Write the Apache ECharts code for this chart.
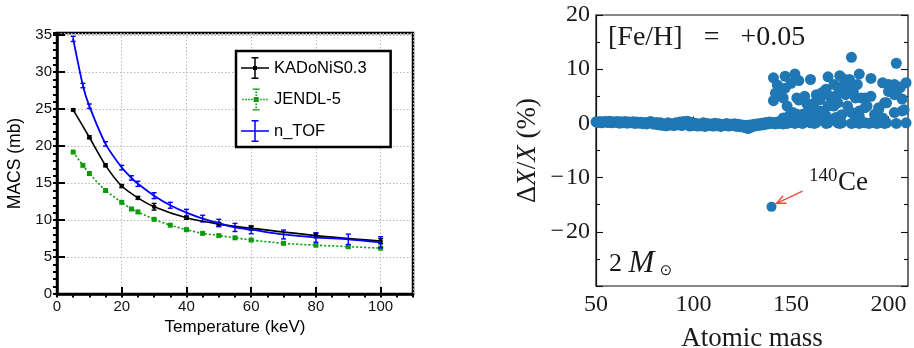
<!DOCTYPE html>
<html>
<head>
<meta charset="utf-8">
<script src="https://cdn.jsdelivr.net/npm/echarts@6.0.0/dist/echarts.min.js"></script>
<style>
html,body{margin:0;padding:0;background:#ffffff;}
#chart{width:914px;height:348px;}
</style>
</head>
<body>
<div id="chart"></div>
<script>
// ---------------- Left panel : MACS vs kT ----------------
const tempRange = [0, 110];
const macsRange = [0, 35.3];
const tempKadonis = [5, 10, 15, 20, 25, 30, 40, 50, 60, 80, 100];
const macsKadonis = [24.9, 21.2, 17.4, 14.6, 13.0, 11.8, 10.3, 9.45, 8.9, 7.9, 7.15];
const errKadonis  = [0.15, 0.2, 0.2, 0.2, 0.2, 0.45, 0.2, 0.25, 0.25, 0.3, 0.35];

const tempJendl = [5, 8, 10, 15, 20, 23, 25, 30, 35, 40, 45, 50, 55, 60, 70, 80, 90, 100];
const macsJendl = [19.2, 17.4, 16.3, 14.0, 12.4, 11.5, 11.1, 10.1, 9.3, 8.7, 8.2, 7.9, 7.6, 7.3, 6.85, 6.6, 6.4, 6.2];

const tempNtof = [5, 8, 10, 15, 20, 23, 25, 30, 35, 40, 45, 50, 55, 60, 70, 80, 90, 100];
const macsNtof = [34.5, 28.2, 25.4, 20.3, 17.1, 15.7, 14.9, 13.3, 12.0, 11.0, 10.2, 9.6, 9.0, 8.7, 8.05, 7.65, 7.4, 7.0];
const errNtof  = [0.35, 0.3, 0.3, 0.3, 0.3, 0.3, 0.35, 0.4, 0.4, 0.45, 0.45, 0.5, 0.55, 0.55, 0.6, 0.65, 0.7, 0.75];

const legendNames = ['KADoNiS0.3', 'JENDL-5', 'n_TOF'];

// ---------------- Right panel : Delta X / X vs A ----------------
const massRange = [50, 210];
const deltaRange = [-30, 20];
const bandMass = [50,51,52,53,54,55,56,57,58,59,60,61,62,63,64,65,66,67,68,69,
  70,71,72,73,74,75,76,77,78,79,80,81,82,83,84,85,86,87,88,89,
  90,91,92,93,94,95,96,97,98,99,100,101,102,103,104,105,106,107,108,109,
  110,111,112,113,114,115,116,117,118,119,120,121,122,123,124,125,126,127,128,129,
  130,131,132,133,134,135,136,137,138,139,140,141,142,143,144,145,146,147];
const bandDelta = [0.3,0.15,0.35,0.1,0.3,0.35,0.15,0.4,0.1,0.3,
  0.2,0.35,0.05,0.3,0.1,0.35,0.05,0.25,0.1,0.3,
  0.0,0.25,0.05,0.2,-0.05,0.15,-0.1,0.2,0.35,-0.05,
  -0.15,0.15,-0.25,0.1,-0.35,-0.05,-0.45,0.1,-0.3,-0.05,
  -0.4,0.1,-0.25,0.25,-0.4,0.35,-0.15,0.4,-0.5,0.15,
  -0.4,0.05,-0.5,-0.1,-0.45,0.1,-0.55,0.0,-0.4,-0.1,
  -0.5,0.05,-0.45,-0.05,-0.55,-0.2,-0.4,0.0,-0.5,-0.15,
  -0.4,-0.05,-0.55,-0.15,-0.6,-0.3,-0.75,-0.35,-0.95,-0.3,
  -0.65,-0.15,-0.45,-0.05,-0.35,0.05,-0.25,0.15,-0.1,0.25,
  0.0,0.15,-0.1,0.25,0.0,0.1,-0.1,0.2];
const clusterMass = [
  141,147,152,154,160,169,175,180,181,185,191,197,204,203,206,209,
  141,142,143,145,146,147,148,150,153,154,157,158,163,165,166,167,168,170,171,172,
  174,175,177,178,179,181,182,183,184,186,188,189,191,195,198,200,200,202,203,204,206,207,208,
  149,151,153,156,157,159,161,162,163,165,168,169,172,174,176,179,181,185,185,188,193,193,195,197,199,203,207,
  146,152,159,166,173,184,193,
  142,148,150,152,155,156,160,162,163,168,169,174,175,176,181,182,185,188,190,193,194,195,198,199,204,209];
const clusterDelta = [
  8.4,8.7,9.1,7.9,8.1,8.6,8.8,8.1,12.2,9.1,8.3,7.5,11.1,7.2,6.7,7.5,
  4.2,5.6,7.1,6.0,4.7,6.5,3.2,7.4,4.7,4.3,5.0,3.7,5.3,4.4,5.7,5.9,6.3,5.0,4.7,7.2,
  5.4,6.6,8.2,5.3,6.9,6.0,5.8,4.7,7.2,4.7,4.7,3.2,5.0,2.9,3.8,5.9,7.2,6.3,5.3,5.7,6.6,4.5,2.5,
  1.4,2.0,1.7,1.7,1.0,2.6,2.9,3.8,1.6,2.3,1.4,3.2,3.2,3.8,1.6,3.2,2.0,2.3,1.3,2.9,1.7,1.6,2.6,1.0,3.8,2.0,2.3,
  1.0,1.1,0.9,1.0,1.1,0.9,0.9,
  0.1,0.0,0.2,0.0,0.1,0.0,0.1,0.0,0.2,0.0,0.1,0.1,0.0,0.1,0.0,0.1,0.0,0.1,0.0,0.1,0.0,0.1,0.0,0.1,0.0,0.1];
const ceMass = [140];
const ceDelta = [-15.4];
const arrowFrom = [155.9, -12.5];
const arrowTo = [142.6, -14.75];

// ---------------- helpers ----------------
const BLACK = '#000000', GREEN = '#0a9a0a', BLUE = '#0000ff', DOT = '#1f77b4', RED = '#ef4a3a';
const SANS = '"Liberation Sans", Arial, sans-serif';
const SERIF = '"Liberation Serif", "Times New Roman", serif';

function pairs(xs, ys) { return xs.map((x, i) => [x, ys[i]]); }
function errData(xs, ys, es) { return xs.map((x, i) => [x, ys[i] - es[i], ys[i] + es[i]]); }
function errSeries(name, xs, ys, es, color) {
  return {
    type: 'custom', name: name, xAxisIndex: 0, yAxisIndex: 0, z: 4,
    data: errData(xs, ys, es),
    encode: { x: 0, y: [1, 2] },
    renderItem: function (params, api) {
      const lo = api.coord([api.value(0), api.value(1)]);
      const hi = api.coord([api.value(0), api.value(2)]);
      const cw = 2.5;
      const st = { stroke: color, lineWidth: 1.4 };
      return { type: 'group', children: [
        { type: 'line', shape: { x1: lo[0], y1: lo[1], x2: hi[0], y2: hi[1] }, style: st },
        { type: 'line', shape: { x1: lo[0] - cw, y1: lo[1], x2: lo[0] + cw, y2: lo[1] }, style: st },
        { type: 'line', shape: { x1: hi[0] - cw, y1: hi[1], x2: hi[0] + cw, y2: hi[1] }, style: st }
      ] };
    }
  };
}
// legend icons (28 x 22 box)
const iconCross = 'path://M0,10.25H28V11.75H0Z M13.25,1.5H14.75V20.5H13.25Z M10.5,0H17.5V1.5H10.5Z M10.5,20.5H17.5V22H10.5Z';
const iconKadonis = iconCross + ' M12,9H16V13H12Z';
let dotted = '';
for (let x = 0; x <= 26.5; x += 3) dotted += ' M' + x + ',10.2H' + (x + 1.6) + 'V11.8H' + x + 'Z';
for (let y = 0; y <= 20.5; y += 3) dotted += ' M13.2,' + y + 'H14.8V' + (y + 1.5) + 'H13.2Z';
const iconJendl = 'path://' + dotted + ' M11.5,8.5H16.5V13.5H11.5Z M10.5,0H17.5V1.2H10.5Z M10.5,20.8H17.5V22H10.5Z';

const chart = echarts.init(document.getElementById('chart'), null, { renderer: 'canvas' });

const option = {
  animation: false,
  backgroundColor: '#ffffff',
  textStyle: { fontFamily: SANS },
  grid: [
    { left: 57, right: 501, top: 33, bottom: 54, show: true, borderColor: '#000', borderWidth: 2.5, backgroundColor: 'transparent', outerBoundsMode: 'none' },
    { left: 596, right: 6, top: 15, bottom: 62, show: true, borderColor: '#111', borderWidth: 1.2, backgroundColor: 'transparent', outerBoundsMode: 'none' }
  ],
  legend: {
    orient: 'vertical', left: 236, top: 51,
    padding: [6, 24, 5, 5], itemGap: 9.5, itemWidth: 28, itemHeight: 22,
    backgroundColor: '#ffffff', borderColor: '#000', borderWidth: 2.5, borderRadius: 0,
    textStyle: { fontFamily: SANS, fontSize: 16.5, color: '#000' },
    selectedMode: false,
    data: [
      { name: legendNames[0], icon: iconKadonis, itemStyle: { color: BLACK, borderWidth: 0 } },
      { name: legendNames[1], icon: iconJendl, itemStyle: { color: GREEN, borderWidth: 0 } },
      { name: legendNames[2], icon: iconCross, itemStyle: { color: BLUE, borderWidth: 0 } }
    ]
  },
  xAxis: [
    { type: 'value', gridIndex: 0, min: tempRange[0], max: tempRange[1], interval: 20,
      name: 'Temperature (keV)', nameLocation: 'middle', nameGap: 25,
      nameTextStyle: { fontFamily: SANS, fontSize: 17, color: '#000' },
      axisLine: { show: true, lineStyle: { color: '#000', width: 2.5 } },
      axisTick: { show: true, inside: true, length: 7, lineStyle: { color: '#000', width: 2 } },
      axisLabel: { show: true, margin: 5, fontFamily: SANS, fontSize: 15, color: '#111', showMaxLabel: false },
      splitLine: { show: true, lineStyle: { color: '#b8b8b8', width: 1, type: [1.5, 2] } } },
    { type: 'value', gridIndex: 0, min: tempRange[0], max: tempRange[1], interval: 5,
      axisLine: { show: false }, axisLabel: { show: false }, splitLine: { show: false },
      axisTick: { show: true, inside: true, length: 3.5, lineStyle: { color: '#000', width: 2 } } },
    { type: 'value', gridIndex: 1, min: massRange[0], max: massRange[1], interval: 50,
      name: 'Atomic mass', nameLocation: 'middle', nameGap: 39,
      nameTextStyle: { fontFamily: SERIF, fontSize: 27, color: '#1a1a1a' },
      axisLine: { show: true, lineStyle: { color: '#111', width: 1.2 } },
      axisTick: { show: true, inside: true, length: 7, lineStyle: { color: '#111', width: 1.1 } },
      axisLabel: { show: true, margin: 7, fontFamily: SERIF, fontSize: 24, color: '#1a1a1a', showMaxLabel: false },
      splitLine: { show: false } },
    { type: 'value', gridIndex: 1, min: massRange[0], max: massRange[1], interval: 10,
      axisLine: { show: false }, axisLabel: { show: false }, splitLine: { show: false },
      axisTick: { show: true, inside: true, length: 4, lineStyle: { color: '#111', width: 1.1 } } }
  ],
  yAxis: [
    { type: 'value', gridIndex: 0, min: macsRange[0], max: macsRange[1], interval: 5,
      name: 'MACS (mb)', nameLocation: 'middle', nameGap: 33,
      nameTextStyle: { fontFamily: SANS, fontSize: 17.5, color: '#000' },
      axisLine: { show: true, lineStyle: { color: '#000', width: 2.5 } },
      axisTick: { show: true, inside: true, length: 8, lineStyle: { color: '#000', width: 2 } },
      axisLabel: { show: true, margin: 5, fontFamily: SANS, fontSize: 15, color: '#111', showMaxLabel: false },
      splitLine: { show: true, lineStyle: { color: '#b8b8b8', width: 1, type: [1.5, 2] } } },
    { type: 'value', gridIndex: 0, min: macsRange[0], max: macsRange[1], interval: 1,
      axisLine: { show: false }, axisLabel: { show: false }, splitLine: { show: false },
      axisTick: { show: true, inside: true, length: 4, lineStyle: { color: '#000', width: 2 } } },
    { type: 'value', gridIndex: 1, min: deltaRange[0], max: deltaRange[1], interval: 10,
      name: '{u|\u0394}{i|X}{u|/}{i|X}{u| (%)}', nameLocation: 'middle', nameGap: 55,
      nameTextStyle: { rich: {
        u: { fontFamily: SERIF, fontSize: 27, color: '#1a1a1a' },
        i: { fontFamily: SERIF, fontStyle: 'italic', fontSize: 27, color: '#1a1a1a' } } },
      axisLine: { show: true, lineStyle: { color: '#111', width: 1.2 } },
      axisTick: { show: true, inside: true, length: 7, lineStyle: { color: '#111', width: 1.1 } },
      minorTick: { show: true, splitNumber: 2, length: 4, lineStyle: { color: '#111', width: 1.1 } },
      axisLabel: { show: true, margin: 6, fontFamily: SERIF, fontSize: 24, color: '#1a1a1a', showMinLabel: false,
        formatter: v => (v < 0 ? '\u2212\u200a' + (-v) : String(v)) },
      splitLine: { show: false } },
    { type: 'value', gridIndex: 1, position: 'right', min: deltaRange[0], max: deltaRange[1], interval: 10,
      axisLine: { show: false }, axisLabel: { show: false }, splitLine: { show: false },
      axisTick: { show: true, inside: true, length: 7, lineStyle: { color: '#111', width: 1.1 } },
      minorTick: { show: true, splitNumber: 2, length: 4, lineStyle: { color: '#111', width: 1.1 } } }
  ],
  series: [
    { type: 'line', name: legendNames[1], xAxisIndex: 0, yAxisIndex: 0, z: 3,
      data: pairs(tempJendl, macsJendl), smooth: 0.25,
      symbol: 'rect', symbolSize: 5, showSymbol: true,
      lineStyle: { color: GREEN, width: 1.6, type: [2, 2] }, itemStyle: { color: GREEN } },
    { type: 'line', name: legendNames[0], xAxisIndex: 0, yAxisIndex: 0, z: 4,
      data: pairs(tempKadonis, macsKadonis), smooth: 0.25,
      symbol: 'circle', symbolSize: 4.5, showSymbol: true,
      lineStyle: { color: BLACK, width: 1.6 }, itemStyle: { color: BLACK } },
    errSeries('KADoNiS err', tempKadonis, macsKadonis, errKadonis, BLACK),
    { type: 'line', name: legendNames[2], xAxisIndex: 0, yAxisIndex: 0, z: 5,
      data: pairs(tempNtof, macsNtof), smooth: 0.25,
      symbol: 'none', showSymbol: false,
      lineStyle: { color: BLUE, width: 1.8 }, itemStyle: { color: BLUE } },
    errSeries('n_TOF err', tempNtof, macsNtof, errNtof, BLUE),

    { type: 'scatter', name: 'band', xAxisIndex: 2, yAxisIndex: 2, clip: true,
      data: pairs(bandMass, bandDelta), symbol: 'circle', symbolSize: 11,
      itemStyle: { color: DOT, opacity: 1 } },
    { type: 'scatter', name: 'cluster', xAxisIndex: 2, yAxisIndex: 2, clip: true,
      data: pairs(clusterMass, clusterDelta), symbol: 'circle', symbolSize: 11,
      itemStyle: { color: DOT, opacity: 1 } },
    { type: 'scatter', name: 'Ce140', xAxisIndex: 2, yAxisIndex: 2, clip: true,
      data: pairs(ceMass, ceDelta), symbol: 'circle', symbolSize: 10,
      itemStyle: { color: DOT, opacity: 1 } },
    { type: 'custom', name: 'arrow', xAxisIndex: 2, yAxisIndex: 2, z: 6,
      data: [[arrowFrom[0], arrowFrom[1], arrowTo[0], arrowTo[1]]],
      encode: { x: [0, 2], y: [1, 3] },
      renderItem: function (params, api) {
        const a = api.coord([api.value(0), api.value(1)]);
        const b = api.coord([api.value(2), api.value(3)]);
        const ang = Math.atan2(a[1] - b[1], a[0] - b[0]);
        const L = 10, w = 0.42;
        const h1 = [b[0] + L * Math.cos(ang + w), b[1] + L * Math.sin(ang + w)];
        const h2 = [b[0] + L * Math.cos(ang - w), b[1] + L * Math.sin(ang - w)];
        return { type: 'group', children: [
          { type: 'line', shape: { x1: a[0], y1: a[1], x2: b[0], y2: b[1] }, style: { stroke: RED, lineWidth: 1.5 } },
          { type: 'polyline', shape: { points: [h1, b, h2] }, style: { stroke: RED, lineWidth: 1.5, fill: null } }
        ] };
      } }
  ],
  graphic: [
    { type: 'text', x: 608, y: 38, z: 10,
      style: { text: '[Fe/H]   =   +0.05', fontFamily: SERIF, fontSize: 28, fill: '#1a1a1a', align: 'left', verticalAlign: 'middle' } },
    { type: 'text', x: 609, y: 264, z: 10,
      style: { text: '{n|2 }{i|M}', align: 'left', verticalAlign: 'middle',
        rich: { n: { fontFamily: SERIF, fontSize: 26, fill: '#1a1a1a', color: '#1a1a1a' },
                i: { fontFamily: SERIF, fontStyle: 'italic', fontSize: 31, fill: '#1a1a1a', color: '#1a1a1a' } } } },
    { type: 'text', x: 666, y: 271, z: 10,
      style: { text: '\u2299', fontFamily: '"DejaVu Sans", sans-serif', fontSize: 15, fill: '#1a1a1a', align: 'center', verticalAlign: 'middle' } },
    { type: 'text', x: 809, y: 176, z: 10,
      style: { text: '140', fontFamily: SERIF, fontSize: 19, fill: '#1a1a1a', align: 'left', verticalAlign: 'middle' } },
    { type: 'text', x: 838, y: 183, z: 10,
      style: { text: 'Ce', fontFamily: SERIF, fontSize: 27, fill: '#1a1a1a', align: 'left', verticalAlign: 'middle' } }
  ]
};
chart.setOption(option);
</script>
</body>
</html>
